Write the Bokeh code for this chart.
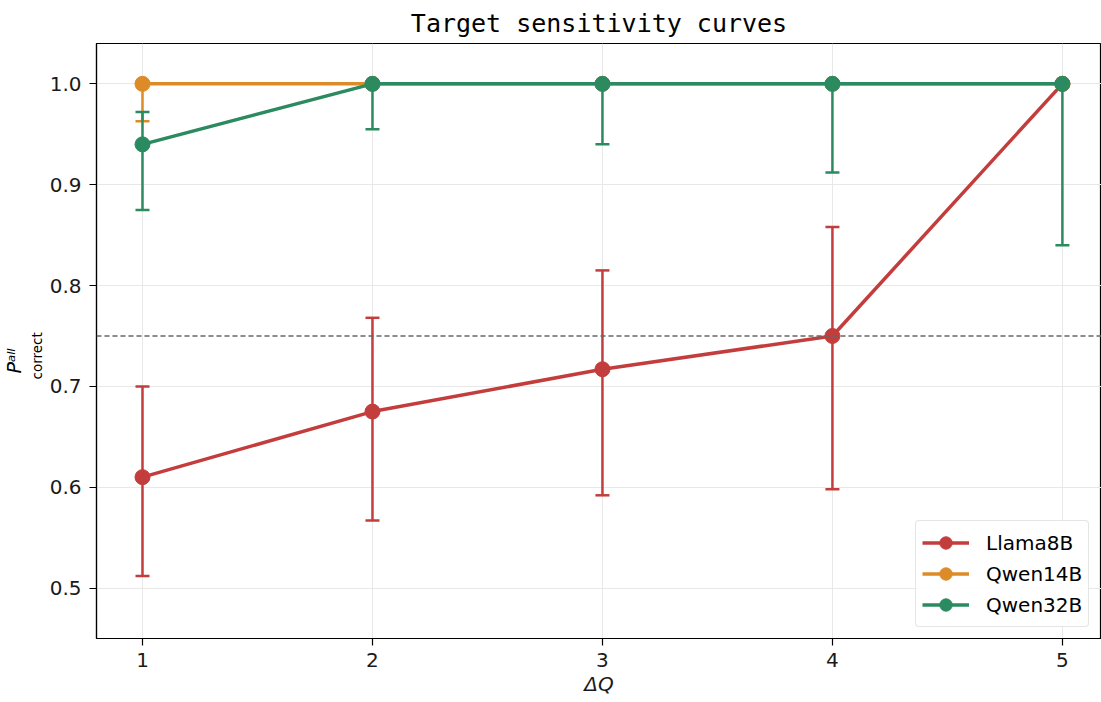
from bokeh.plotting import figure
from bokeh.models import (Range1d, Span, Legend, LegendItem, ColumnDataSource,
                          FixedTicker, PrintfTickFormatter, Title)
from bokeh.embed import file_html
from bokeh.resources import INLINE

# ---- data ----
dq = [1, 2, 3, 4, 5]
series_names = ["Llama8B", "Qwen14B", "Qwen32B"]
llama_y = [0.610, 0.675, 0.717, 0.750, 1.000]
llama_lo = [0.512, 0.567, 0.592, 0.598, 1.000]
llama_hi = [0.700, 0.768, 0.815, 0.858, 1.000]
qwen14_y = [1.000, 1.000, 1.000, 1.000, 1.000]
qwen14_lo = [0.963, 1.000, 1.000, 1.000, 1.000]
qwen14_hi = [1.000, 1.000, 1.000, 1.000, 1.000]
qwen32_y = [0.940, 1.000, 1.000, 1.000, 1.000]
qwen32_lo = [0.875, 0.955, 0.940, 0.912, 0.840]
qwen32_hi = [0.972, 1.000, 1.000, 1.000, 1.000]
threshold = 0.75
y_ticks = [0.5, 0.6, 0.7, 0.8, 0.9, 1.0]
x_ticks = [1, 2, 3, 4, 5]
colors = ["#c43d3d", "#dc8b27", "#2b8a5f"]

series = [
    (series_names[0], llama_y, llama_lo, llama_hi, colors[0]),
    (series_names[1], qwen14_y, qwen14_lo, qwen14_hi, colors[1]),
    (series_names[2], qwen32_y, qwen32_lo, qwen32_hi, colors[2]),
]

p = figure(width=1101, height=702, output_backend="svg", toolbar_location=None,
           x_range=Range1d(0.8, 5.17), y_range=Range1d(0.45, 1.04),
           min_border_left=96, min_border_right=0, min_border_top=43, min_border_bottom=64)

p.title.text = "Target sensitivity curves"
p.title.text_font = "DejaVu Sans Mono"
p.title.text_font_size = "25px"
p.title.text_font_style = "normal"
p.title.text_color = "black"
p.title.align = "center"
p.title.standoff = 11

p.outline_line_color = "black"
p.outline_line_width = 1.2
p.background_fill_color = "white"
p.border_fill_color = "white"

for ax in (p.xaxis[0], p.yaxis[0]):
    ax.axis_line_color = "black"
    ax.axis_line_width = 1.2
    ax.major_tick_line_color = "black"
    ax.major_tick_line_width = 1.2
    ax.major_tick_out = 7
    ax.major_tick_in = 0
    ax.minor_tick_line_color = None
    ax.major_label_text_font = "DejaVu Sans"
    ax.major_label_text_font_size = "20px"
    ax.major_label_text_color = "#1a1a1a"

p.xaxis.major_label_standoff = 7
p.yaxis.major_label_standoff = 8
p.xaxis.ticker = FixedTicker(ticks=x_ticks)
p.yaxis.ticker = FixedTicker(ticks=y_ticks)
p.yaxis.formatter = PrintfTickFormatter(format="%.1f")
p.xaxis.axis_label = "ΔQ"
p.xaxis.axis_label_text_font = "DejaVu Sans"
p.xaxis.axis_label_text_font_style = "italic"
p.xaxis.axis_label_text_font_size = "20px"
p.xaxis.axis_label_text_color = "#1a1a1a"
p.xaxis.axis_label_standoff = 2
p.yaxis.axis_label = None

p.xgrid.grid_line_color = "#e8e8e8"
p.ygrid.grid_line_color = "#e8e8e8"
p.xgrid.grid_line_width = 1
p.ygrid.grid_line_width = 1

p.add_layout(Span(location=threshold, dimension="width", line_color="#666666",
                  line_width=1.5, line_dash="5 3"))

items = []
for name, ys, lo, hi, c in series:
    ex = [x for x, a, b in zip(dq, lo, hi) if b > a]
    elo = [a for a, b in zip(lo, hi) if b > a]
    ehi = [b for a, b in zip(lo, hi) if b > a]
    err = ColumnDataSource(dict(x=ex, lo=elo, hi=ehi))
    p.segment(x0="x", y0="lo", x1="x", y1="hi", source=err, line_color=c, line_width=2.5)
    p.scatter(x="x", y="lo", source=err, marker="dash", size=14, line_color=c, line_width=2.5)
    p.scatter(x="x", y="hi", source=err, marker="dash", size=14, line_color=c, line_width=2.5)
    src = ColumnDataSource(dict(x=dq, y=ys))
    ln = p.line(x="x", y="y", source=src, line_color=c, line_width=3.5)
    mk = p.scatter(x="x", y="y", source=src, marker="circle", size=15, fill_color=c, line_color=c)
    items.append(LegendItem(label=name, renderers=[ln, mk]))

legend = Legend(items=items, location=(819, 11))
legend.label_text_font = "DejaVu Sans"
legend.label_text_font_size = "20px"
legend.label_text_color = "black"
legend.glyph_width = 47
legend.glyph_height = 31
legend.label_height = 20
legend.label_standoff = 17
legend.spacing = 0
legend.padding = 6
legend.margin = 0
legend.border_line_color = "#cccccc"
legend.border_line_width = 1
legend.border_radius = 4
legend.background_fill_alpha = 0.9
p.add_layout(legend)

# y label  P^{all}_{correct}, built from side titles
p.add_layout(Title(text="correct", align="left", offset=259, standoff=4,
                   text_font="DejaVu Sans", text_font_size="13.5px", text_font_style="normal",
                   text_color="black"), "left")
p.add_layout(Title(text="Pᵃˡˡ", align="left", offset=265, standoff=0,
                   text_font="DejaVu Sans", text_font_size="19px", text_font_style="italic",
                   text_color="black"), "left")

open("out.html", "w").write(file_html(p, INLINE))
